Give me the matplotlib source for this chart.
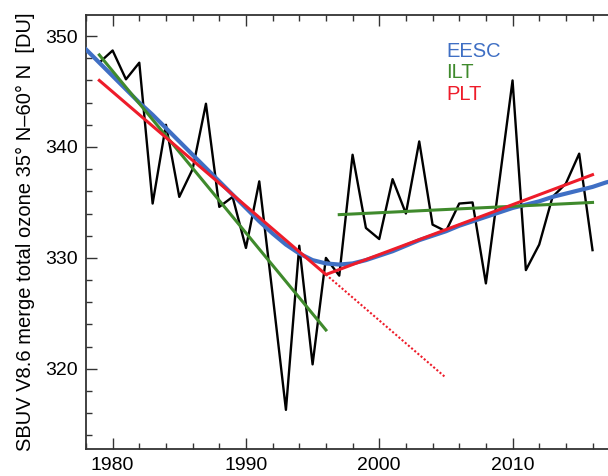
import matplotlib
matplotlib.use('Agg')
import matplotlib.pyplot as plt
from matplotlib.ticker import MultipleLocator

plt.rcParams['font.family'] = ['Liberation Sans', 'DejaVu Sans']

# annual mean total ozone (DU)
years = list(range(1979, 2017))
ozone = [347.6, 348.7, 346.1, 347.6, 334.9, 342.0, 335.5, 338.0, 343.9, 334.6,
         335.5, 330.9, 336.9, 326.7, 316.3, 331.1, 320.4, 330.0, 328.4, 339.3,
         332.7, 331.7, 337.1, 334.0, 340.5, 333.0, 332.4, 334.9, 335.0, 327.7,
         336.8, 346.0, 328.9, 331.2, 335.5, 336.7, 339.4, 330.7]

# EESC fit
eesc_years = list(range(1978, 2019))
eesc = [348.8, 347.6, 346.4, 345.2, 344.0, 342.9, 341.7, 340.5, 339.3, 338.1,
        336.9, 335.7, 334.5, 333.3, 332.2, 331.2, 330.4, 329.8, 329.5, 329.4,
        329.5, 329.8, 330.2, 330.6, 331.1, 331.6, 332.0, 332.4, 332.9, 333.3,
        333.7, 334.1, 334.5, 334.8, 335.1, 335.5, 335.8, 336.1, 336.4, 336.8,
        337.1]

# independent linear trends
ilt1_years = [1979, 1996]
ilt1 = [348.3, 323.5]
ilt2_years = [1997, 2016]
ilt2 = [333.9, 335.0]

# piecewise linear trend
plt_years = [1979, 1996, 2016]
plt_vals = [346.0, 328.5, 337.5]
plt_ext_years = [1996, 2005]
plt_ext = [328.5, 319.2]

c_blue = '#3f6fc4'
c_green = '#3f8a2c'
c_red = '#ee1c2a'

fig = plt.figure(figsize=(6.08, 4.76), dpi=100)
ax = fig.add_axes([0.1414, 0.0574, 0.877, 0.9111])

ax.plot(years, ozone, color='k', lw=1.7, zorder=2)
ax.plot(eesc_years, eesc, color=c_blue, lw=3.0, zorder=3)
ax.plot(ilt1_years, ilt1, color=c_green, lw=2.2, zorder=4)
ax.plot(ilt2_years, ilt2, color=c_green, lw=2.2, zorder=4)
ax.plot(plt_years, plt_vals, color=c_red, lw=2.2, zorder=5)
ax.plot(plt_ext_years, plt_ext, color=c_red, lw=1.5, ls=(0, (1, 1)), zorder=5)

ax.text(2005.0, 348.6, 'EESC', color=c_blue, fontsize=14.5, va='center')
ax.text(2005.0, 346.7, 'ILT', color=c_green, fontsize=14.5, va='center')
ax.text(2005.0, 344.75, 'PLT', color=c_red, fontsize=14.5, va='center')

ax.set_xlim(1978, 2018)
ax.set_ylim(312.8, 351.9)
ax.xaxis.set_major_locator(MultipleLocator(10))
ax.xaxis.set_minor_locator(MultipleLocator(2))
ax.yaxis.set_major_locator(MultipleLocator(10))
ax.yaxis.set_minor_locator(MultipleLocator(2))
ax.tick_params(which='both', direction='in', top=True, right=False,
               labelsize=14, width=1.0, color='#333333')
ax.tick_params(which='major', length=8, pad=6)
ax.tick_params(which='minor', length=4.5)
for s in ['left', 'top', 'bottom']:
    ax.spines[s].set_linewidth(1.3)
    ax.spines[s].set_color('#333333')
ax.spines['right'].set_visible(False)

ax.set_ylabel('SBUV V8.6 merge total ozone 35° N–60° N  [DU]', fontsize=14.5, labelpad=7)

plt.savefig('out.png', dpi=100)
